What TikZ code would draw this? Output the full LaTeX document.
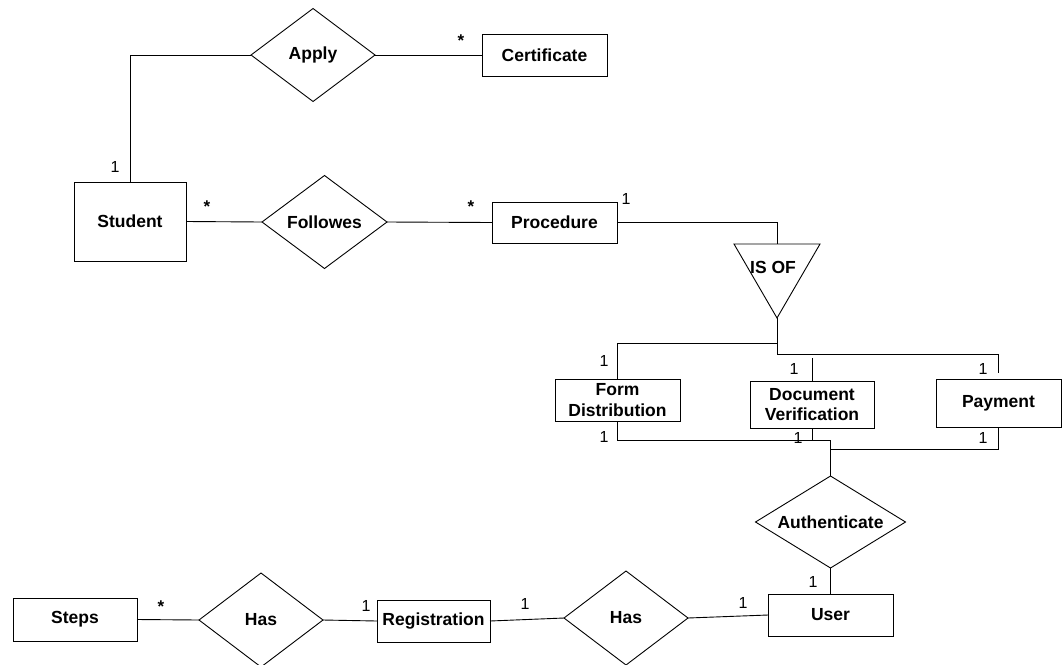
\documentclass[tikz,border=0pt]{standalone}
\usepackage{fontspec}
\setmainfont{Liberation Sans}
\usetikzlibrary{shapes.geometric}
\begin{document}
\begin{tikzpicture}[x=1pt,y=-1pt,
  every node/.style={inner sep=0pt,outer sep=0pt},
  entity/.style={draw,line width=0.9pt,rectangle,align=center,
    font=\fontsize{17.5}{20.5}\selectfont\bfseries},
  rel/.style={draw,line width=0.9pt,diamond,
    font=\fontsize{17.5}{20.5}\selectfont\bfseries},
  mult/.style={font=\fontsize{16}{18}\selectfont},
  star/.style={font=\fontsize{17}{18}\selectfont\bfseries},
  conn/.style={line width=0.9pt}]
\useasboundingbox (0,0) rectangle (1064,664);

% entities
\node[entity,minimum width=125,minimum height=42] (certificate) at (544.5,55) {Certificate};
\node[entity,minimum width=112,minimum height=79] (student) at (130,221.5) {Student};
\node[entity,minimum width=125,minimum height=41] (procedure) at (554.5,222.5) {Procedure};
\node[entity,minimum width=125,minimum height=42] (form) at (617.5,400) {Form\\Distribution};
\node[entity,minimum width=124,minimum height=47] (doc) at (812,404.5) {Document\\Verification};
\node[entity,minimum width=125,minimum height=48] (payment) at (998.5,403) {Payment};
\node[entity,minimum width=125,minimum height=42] (user) at (830.5,615) {User};
\node[entity,minimum width=113,minimum height=42] (registration) at (433.5,621) {Registration};
\node[entity,minimum width=124,minimum height=43] (steps) at (75,619.5) {Steps};

% relationships
\node[rel,aspect=1.33,minimum width=124,minimum height=93] (apply) at (313,55) {Apply};
\node[rel,aspect=1.34,minimum width=125,minimum height=93] (followes) at (324.5,222) {Followes};
\node[rel,aspect=1.63,minimum width=150,minimum height=92] (auth) at (830.5,522) {Authenticate};
\node[rel,aspect=1.32,minimum width=124,minimum height=94] (has1) at (261,620) {Has};
\node[rel,aspect=1.32,minimum width=124,minimum height=94] (has2) at (626,618) {Has};

% IS OF triangle
\coordinate (isoL) at (734,244);
\coordinate (isoR) at (820,244);
\coordinate (isoA) at (777,318);
\coordinate (isoT) at (777,244);
\draw[conn] (isoL) -- (isoR) -- (isoA) -- cycle;
\node[font=\fontsize{17.5}{20.5}\selectfont\bfseries] (isof) at (773,267) {IS OF};

% junction points
\coordinate (j1) at (777,343);
\coordinate (j2) at (777,354);
\coordinate (payEnd) at (998.5,373);
\coordinate (docStub) at (812,358);
\coordinate (j3) at (830.5,440);
\coordinate (j4) at (830.5,449);

% connectors
\draw[conn] (student.north) |- (apply.west);
\draw[conn] (apply.east) -- (certificate.west);
\draw[conn] (student.east) -- (followes.west);
\draw[conn] (followes.east) -- (procedure.west);
\draw[conn] (procedure.east) -| (isoT);
\draw[conn] (isoA) -- (j2);
\draw[conn] (j1) -| (form.north);
\draw[conn] (j2) -| (payEnd);
\draw[conn] (docStub) -- (doc.north);
\draw[conn] (form.south) |- (j3);
\draw[conn] (doc.south) |- (j3);
\draw[conn] (payment.south) |- (j4);
\draw[conn] (j3) -- (auth.north);
\draw[conn] (auth.south) -- (user.north);
\draw[conn] (user.west) -- (has2.east);
\draw[conn] (has2.west) -- (registration.east);
\draw[conn] (registration.west) -- (has1.east);
\draw[conn] (has1.west) -- (steps.east);

% multiplicities
\node[mult] (m1) at (115,167) {1};
\node[star] (m2) at (461,41) {*};
\node[star] (m3) at (207,207) {*};
\node[star] (m4) at (471,207) {*};
\node[mult] (m5) at (626,199) {1};
\node[mult] (m6) at (604,361) {1};
\node[mult] (m7) at (794,369) {1};
\node[mult] (m8) at (983,369) {1};
\node[mult] (m9) at (604,437) {1};
\node[mult] (m10) at (798,438) {1};
\node[mult] (m11) at (983,438) {1};
\node[mult] (m12) at (813,582) {1};
\node[mult] (m13) at (743,603) {1};
\node[mult] (m14) at (525,604) {1};
\node[mult] (m15) at (366,606) {1};
\node[star] (m16) at (161,607) {*};
\end{tikzpicture}
\end{document}
